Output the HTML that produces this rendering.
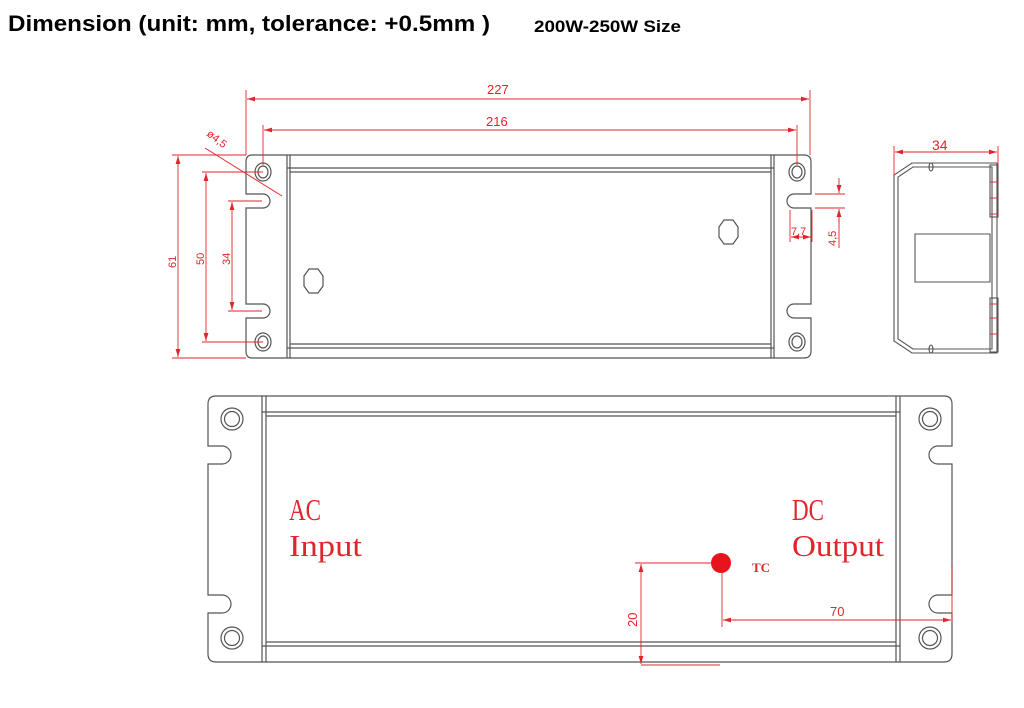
<!DOCTYPE html>
<html><head><meta charset="utf-8"><style>
html,body{margin:0;padding:0;background:#fff;width:1024px;height:708px;overflow:hidden}
svg{display:block}
</style></head><body>
<svg width="1024" height="708" viewBox="0 0 1024 708" xmlns="http://www.w3.org/2000/svg">
<defs>
<marker id="a" viewBox="0 0 10 6" refX="10" refY="3" markerWidth="8" markerHeight="5" orient="auto-start-reverse" markerUnits="userSpaceOnUse"><path d="M0,0L10,3L0,6z" fill="#e0262a"/></marker>
</defs>
<text x="8" y="31" font-family="Liberation Sans, sans-serif" font-weight="bold" font-size="22" textLength="482" lengthAdjust="spacingAndGlyphs">Dimension (unit: mm, tolerance: +0.5mm )</text>
<text x="534" y="32" font-family="Liberation Sans, sans-serif" font-weight="bold" font-size="17" textLength="147" lengthAdjust="spacingAndGlyphs">200W-250W Size</text>

<!-- TOP VIEW -->
<g fill="none" stroke="#555" stroke-width="1.2">
<path d="M252,155 H804 Q811,155 811,162 V194 H794 A7,7 0 0 0 794,208 H811 V304 H794 A7,7 0 0 0 794,318 H811 V351 Q811,358 804,358 H252 Q246,358 246,351 V318 H263 A7,7 0 0 0 263,304 H246 V208 H263 A7,7 0 0 0 263,194 H246 V162 Q246,155 252,155 Z"/>
<line x1="287" y1="155" x2="287" y2="358"/><line x1="290" y1="155" x2="290" y2="358"/>
<line x1="771" y1="155" x2="771" y2="358"/><line x1="774" y1="155" x2="774" y2="358"/>
<line x1="287" y1="168" x2="774" y2="168"/><line x1="290" y1="172" x2="771" y2="172"/>
<line x1="287" y1="348" x2="774" y2="348"/><line x1="290" y1="344" x2="771" y2="344"/>
<ellipse cx="263" cy="172" rx="8" ry="9"/><ellipse cx="263" cy="172" rx="5" ry="6"/>
<ellipse cx="263" cy="342" rx="8" ry="9"/><ellipse cx="263" cy="342" rx="5" ry="6"/>
<ellipse cx="797" cy="172" rx="8" ry="9"/><ellipse cx="797" cy="172" rx="5" ry="6"/>
<ellipse cx="797" cy="342" rx="8" ry="9"/><ellipse cx="797" cy="342" rx="5" ry="6"/>
<polygon points="724,220 733,220 738,227 738,237 733,244 724,244 719,237 719,227"/>
<polygon points="309,269 318,269 323,276 323,286 318,293 309,293 304,286 304,276"/>
</g>
<g stroke="#e0262a" stroke-width="0.9" fill="none">
<line x1="246" y1="90" x2="246" y2="155"/><line x1="810" y1="90" x2="810" y2="155"/>
<line x1="247" y1="99" x2="809" y2="99" marker-start="url(#a)" marker-end="url(#a)"/>
<line x1="263" y1="125" x2="263" y2="165"/><line x1="797" y1="125" x2="797" y2="165"/>
<line x1="264" y1="130" x2="796" y2="130" marker-start="url(#a)" marker-end="url(#a)"/>
<line x1="205" y1="148" x2="282" y2="196"/>
<line x1="172" y1="155" x2="246" y2="155"/><line x1="172" y1="358" x2="246" y2="358"/>
<line x1="178" y1="156" x2="178" y2="357" marker-start="url(#a)" marker-end="url(#a)"/>
<line x1="202" y1="172" x2="263" y2="172"/><line x1="202" y1="342" x2="263" y2="342"/>
<line x1="206" y1="173" x2="206" y2="341" marker-start="url(#a)" marker-end="url(#a)"/>
<line x1="228" y1="201" x2="262" y2="201"/><line x1="228" y1="311" x2="262" y2="311"/>
<line x1="232" y1="202" x2="232" y2="310" marker-start="url(#a)" marker-end="url(#a)"/>
<line x1="790" y1="210" x2="790" y2="242"/><line x1="812" y1="210" x2="812" y2="242"/>
<line x1="791" y1="237" x2="811" y2="237" marker-start="url(#a)" marker-end="url(#a)"/>
<line x1="815" y1="194" x2="845" y2="194"/><line x1="815" y1="208" x2="845" y2="208"/>
<line x1="839" y1="178" x2="839" y2="193" marker-end="url(#a)"/>
<line x1="839" y1="224" x2="839" y2="209" marker-end="url(#a)"/>
<line x1="839" y1="209" x2="839" y2="248"/>
</g>
<g fill="#e0262a" font-family="Liberation Sans, sans-serif" font-size="13">
<text x="487" y="94">227</text>
<text x="486" y="126">216</text>
<text x="206" y="135" font-size="11" transform="rotate(38 206 135)">ø4,5</text>
<text x="176" y="268" font-size="11" transform="rotate(-90 176 268)">61</text>
<text x="204" y="265" font-size="11" transform="rotate(-90 204 265)">50</text>
<text x="230" y="265" font-size="11" transform="rotate(-90 230 265)">34</text>
<text x="791" y="235" font-size="11">7,7</text>
<text x="836" y="246" font-size="11" transform="rotate(-90 836 246)">4,5</text>
<text x="932" y="150" font-size="14">34</text>
</g>

<!-- SIDE VIEW -->
<g fill="none" stroke="#555" stroke-width="1.1">
<path d="M912,163 H997 V353 H912 L894,341 V175 Z"/>
<path d="M913,167 H992 V349 H913 L898,339 V177 Z"/>
<path d="M915,234 H990 V282 H915 Z"/>
<rect x="990" y="165" width="8" height="52"/>
<rect x="990" y="298" width="8" height="54"/>
<ellipse cx="931" cy="167" rx="2" ry="4"/><ellipse cx="931" cy="349" rx="2" ry="4"/>
</g>
<g stroke="#e0262a" stroke-width="0.9">
<line x1="894" y1="146" x2="894" y2="175"/><line x1="998" y1="146" x2="998" y2="165"/>
<line x1="895" y1="152" x2="997" y2="152" marker-start="url(#a)" marker-end="url(#a)"/>
<line x1="990" y1="182" x2="998" y2="182"/><line x1="990" y1="198" x2="998" y2="198"/>
<line x1="990" y1="214" x2="998" y2="214"/><line x1="990" y1="304" x2="998" y2="304"/>
<line x1="990" y1="318" x2="998" y2="318"/><line x1="990" y1="334" x2="998" y2="334"/>
</g>

<!-- BOTTOM VIEW -->
<g fill="none" stroke="#555" stroke-width="1.2">
<path d="M216,396 H944 Q952,396 952,404 V446 H938 A9,9 0 0 0 938,464 H952 V595 H938 A9,9 0 0 0 938,613 H952 V654 Q952,662 944,662 H216 Q208,662 208,654 V613 H222 A9,9 0 0 0 222,595 H208 V464 H222 A9,9 0 0 0 222,446 H208 V404 Q208,396 216,396 Z"/>
<line x1="262" y1="396" x2="262" y2="662"/><line x1="266" y1="396" x2="266" y2="662"/>
<line x1="896" y1="396" x2="896" y2="662"/><line x1="900" y1="396" x2="900" y2="662"/>
<line x1="262" y1="412" x2="900" y2="412"/><line x1="266" y1="416" x2="896" y2="416"/>
<line x1="262" y1="646" x2="900" y2="646"/><line x1="266" y1="642" x2="896" y2="642"/>
<circle cx="232" cy="419" r="11"/><circle cx="232" cy="419" r="7.5"/>
<circle cx="930" cy="419" r="11"/><circle cx="930" cy="419" r="7.5"/>
<circle cx="232" cy="638" r="11"/><circle cx="232" cy="638" r="7.5"/>
<circle cx="930" cy="638" r="11"/><circle cx="930" cy="638" r="7.5"/>
</g>
<g fill="#e0262a" font-family="Liberation Serif, serif" font-size="31">
<text x="289" y="520" textLength="32" lengthAdjust="spacingAndGlyphs">AC</text>
<text x="289" y="556" textLength="73" lengthAdjust="spacingAndGlyphs">Input</text>
<text x="792" y="520" textLength="32" lengthAdjust="spacingAndGlyphs">DC</text>
<text x="792" y="556" textLength="92" lengthAdjust="spacingAndGlyphs">Output</text>
<text x="752" y="572" font-size="13" font-weight="bold">TC</text>
</g>
<circle cx="721" cy="563" r="10" fill="#e8141b"/>
<g stroke="#e0262a" stroke-width="0.9" fill="none">
<line x1="635" y1="563" x2="712" y2="563"/>
<line x1="641" y1="564" x2="641" y2="664" marker-start="url(#a)" marker-end="url(#a)"/>
<line x1="641" y1="665" x2="720" y2="665"/>
<line x1="722" y1="572" x2="722" y2="627"/>
<line x1="723" y1="620" x2="951" y2="620" marker-start="url(#a)" marker-end="url(#a)"/>
<line x1="952" y1="566" x2="952" y2="622"/>
</g>
<g fill="#e0262a" font-family="Liberation Sans, sans-serif" font-size="13">
<text x="637" y="627" transform="rotate(-90 637 627)">20</text>
<text x="830" y="616">70</text>
</g>
</svg>
</body></html>
